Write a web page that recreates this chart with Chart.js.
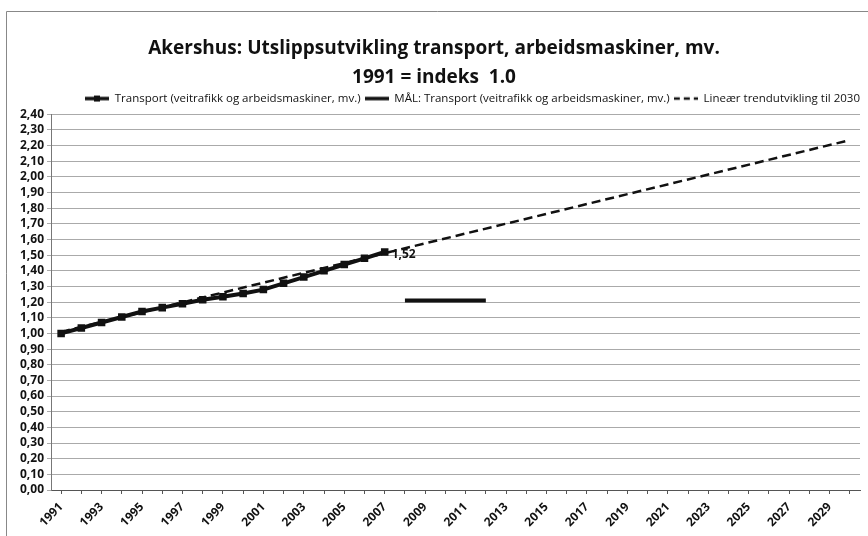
<!DOCTYPE html>
<html>
<head>
<meta charset="utf-8">
<script src="https://cdn.jsdelivr.net/npm/chart.js@4.4.1/dist/chart.umd.min.js"></script>
<style>
  html, body { margin: 0; padding: 0; background: #fff; }
  #wrap { position: relative; width: 868px; height: 536px; }
</style>
</head>
<body>
<div id="wrap"><canvas id="chart"></canvas></div>
<script>
// years on the category axis
const years = [];
for (let y = 1991; y <= 2030; y++) years.push(String(y));

// Transport (veitrafikk og arbeidsmaskiner, mv.) 1991-2007
const transport = [1.00, 1.035, 1.07, 1.105, 1.14, 1.165, 1.19, 1.215, 1.235, 1.255,
                   1.28, 1.32, 1.36, 1.40, 1.44, 1.48, 1.52];
// MÅL 2008-2012
const maal = [null, null, null, null, null, null, null, null, null, null,
              null, null, null, null, null, null, null, 1.21, 1.21, 1.21, 1.21, 1.21];
// linear trend, read at its two ends (1991 and 2030)
const trendStart = 1.01;
const trendEnd = 2.235;
const trend = years.map((y, i) => i === 0 ? trendStart : (i === years.length - 1 ? trendEnd : null));

const yMax = 2.4;
const yStep = 0.1;

const FONT = "'Open Sans', sans-serif";

// legend symbols
function symbol(kind) {
    const c = document.createElement('canvas');
    c.width = 24; c.height = 10;
    const g = c.getContext('2d');
    g.strokeStyle = '#111';
    g.fillStyle = '#111';
    if (kind === 'dash') {
        g.lineWidth = 2.5;
        g.setLineDash([6, 4]);
    } else {
        g.lineWidth = 3.5;
    }
    g.beginPath(); g.moveTo(0, 5); g.lineTo(24, 5); g.stroke();
    if (kind === 'marker') g.fillRect(9, 2, 6, 6);
    return c;
}

const dataLabel = {
    id: 'dataLabel',
    afterDatasetsDraw(chart) {
        const meta = chart.getDatasetMeta(0);
        const pt = meta.data[transport.length - 1];
        const ctx = chart.ctx;
        ctx.save();
        ctx.font = 'bold 12px ' + FONT;
        ctx.fillStyle = '#111';
        ctx.textBaseline = 'middle';
        ctx.fillText(transport[transport.length - 1].toFixed(2).replace('.', ','), pt.x + 7, pt.y + 3);
        ctx.restore();
    }
};

const frame = {
    id: 'frame',
    beforeDraw(chart) {
        const ctx = chart.ctx;
        ctx.save();
        ctx.fillStyle = '#fff';
        ctx.fillRect(0, 0, chart.width, chart.height);
        ctx.strokeStyle = '#888';
        ctx.lineWidth = 1;
        ctx.beginPath();
        ctx.moveTo(6.5, chart.height);
        ctx.lineTo(6.5, 11.5);
        ctx.lineTo(chart.width, 11.5);
        ctx.stroke();
        ctx.restore();
    }
};

new Chart(document.getElementById('chart'), {
    type: 'line',
    data: {
        labels: years,
        datasets: [
            {
                label: 'Transport (veitrafikk og arbeidsmaskiner, mv.)',
                data: transport,
                borderColor: '#111',
                backgroundColor: '#111',
                borderWidth: 4,
                pointStyle: 'rect',
                pointRadius: 2.5,
                pointBackgroundColor: '#111',
                tension: 0
            },
            {
                label: 'MÅL: Transport (veitrafikk og arbeidsmaskiner, mv.)',
                data: maal,
                borderColor: '#111',
                borderWidth: 4,
                pointRadius: 0,
                tension: 0
            },
            {
                label: 'Lineær trendutvikling til 2030',
                data: trend,
                spanGaps: true,
                borderColor: '#111',
                borderWidth: 2.5,
                borderDash: [9, 5],
                pointRadius: 0,
                tension: 0
            }
        ]
    },
    options: {
        responsive: true,
        maintainAspectRatio: false,
        animation: false,
        layout: { padding: { left: 4, right: 4, top: 0, bottom: 0 } },
        scales: {
            x: {
                offset: true,
                grid: { display: true, drawOnChartArea: false, drawTicks: true, tickLength: 4, color: '#555' },
                border: { color: '#555', width: 1 },
                ticks: {
                    autoSkip: false,
                    maxRotation: 45,
                    minRotation: 45,
                    padding: 6,
                    color: '#111',
                    font: { family: FONT, size: 12, weight: 'bold' },
                    callback: function (v, i) { return i % 2 === 0 ? this.getLabelForValue(v) : ''; }
                },
                afterFit(scale) {
                    scale.height = 46;
                    scale.paddingLeft = 0;
                    scale.paddingRight = 0;
                }
            },
            y: {
                min: 0,
                max: yMax,
                grid: { color: '#aaa', borderDash: [1, 2], tickLength: 4, lineWidth: 1 },
                border: { color: '#777', width: 1 },
                ticks: {
                    stepSize: yStep,
                    autoSkip: false,
                    padding: 3,
                    color: '#111',
                    font: { family: FONT, size: 12, weight: 'bold' },
                    callback: (v) => Number(v).toFixed(2).replace('.', ',')
                },
                afterFit(scale) { scale.width = 47; }
            }
        },
        plugins: {
            title: {
                display: true,
                text: ['Akershus: Utslippsutvikling transport, arbeidsmaskiner, mv.', '1991 = indeks  1.0'],
                color: '#111',
                font: { family: FONT, size: 19, weight: 'bold', lineHeight: 1.52 },
                padding: { top: 34, bottom: -3 }
            },
            legend: {
                display: true,
                align: 'end',
                labels: {
                    color: '#111',
                    font: { family: FONT, size: 11.5 },
                    usePointStyle: true,
                    pointStyleWidth: 24,
                    padding: 4,
                    generateLabels(chart) {
                        const kinds = ['marker', 'line', 'dash'];
                        return chart.data.datasets.map((ds, i) => ({
                            text: ds.label,
                            pointStyle: symbol(kinds[i]),
                            datasetIndex: i,
                            fontColor: '#111',
                            lineWidth: 0,
                            strokeStyle: 'transparent',
                            fillStyle: 'transparent'
                        }));
                    }
                }
            },
            tooltip: { enabled: false }
        }
    },
    plugins: [frame, dataLabel]
});
</script>
</body>
</html>
